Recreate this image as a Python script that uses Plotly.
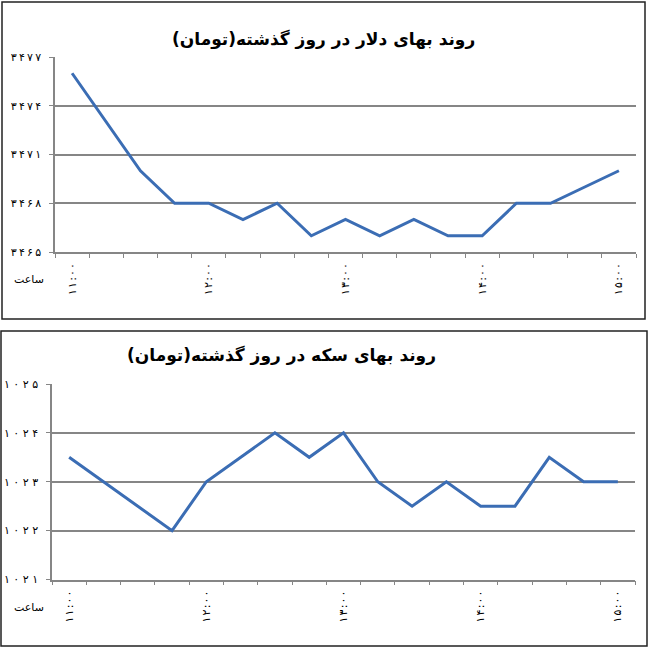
"""Dollar and coin price trend over the past day (two stacked line charts)."""

import plotly.graph_objects as go

# Data
times = ['11:00', '11:15', '11:30', '11:45', '12:00', '12:15', '12:30', '12:45', '13:00',
         '13:15', '13:30', '13:45', '14:00', '14:15', '14:30', '14:45', '15:00']
dollar = [3476, 3473, 3470, 3468, 3468, 3467, 3468, 3466, 3467,
          3466, 3467, 3466, 3466, 3468, 3468, 3469, 3470]
coin = [1023.5, 1023, 1022.5, 1022, 1023, 1023.5, 1024, 1023.5, 1024,
        1023, 1022.5, 1023, 1022.5, 1022.5, 1023.5, 1023, 1023]
dollar_ticks = [3465, 3468, 3471, 3474, 3477]
coin_ticks = [1021, 1022, 1023, 1024, 1025]

title_dollar = 'روند بهای دلار در روز گذشته(تومان)'
title_coin = 'روند بهای سکه در روز گذشته(تومان)'
hour_label = 'ساعت'

W, H = 650, 648
FONT = 'DejaVu Sans'
BLUE = '#3b6db4'
GRAY = '#868686'
THIN = '\u2009'
HAIR = '\u200a'


def fa(s, sep=''):
    """Convert western digits to Persian digits"""
    digits = '۰۱۲۳۴۵۶۷۸۹'
    out = [digits[int(c)] if c.isdigit() else c for c in str(s)]
    return sep.join(out)


def px(x):
    return x / W


def py(y):
    return 1 - y / H


idx = list(range(len(times)))
label_idx = idx[::4]

fig = go.Figure()
fig.add_trace(go.Scatter(x=idx, y=dollar, mode='lines', xaxis='x', yaxis='y',
                         line=dict(color=BLUE, width=3)))
fig.add_trace(go.Scatter(x=idx, y=coin, mode='lines', xaxis='x2', yaxis='y2',
                         line=dict(color=BLUE, width=3)))


def xaxis_cfg(domain, anchor, standoff):
    return dict(
        domain=domain, anchor=anchor, range=[-0.5, len(times) - 0.5],
        tickmode='array', tickvals=label_idx,
        ticktext=[fa(times[i], HAIR) for i in label_idx],
        tickangle=-90, ticks='', ticklabelstandoff=standoff,
        tickfont=dict(family=FONT, size=11, color='black'),
        showgrid=False, zeroline=False, automargin=False,
        showline=True, linecolor=GRAY, linewidth=1.5,
        minor=dict(tickmode='array', tickvals=[i - 0.5 for i in range(len(times) + 1)],
                   ticks='outside', ticklen=4, tickcolor=GRAY, tickwidth=1.2,
                   showgrid=False),
    )


def yaxis_cfg(domain, anchor, rng, ticks, sep):
    return dict(
        domain=domain, anchor=anchor, range=rng,
        tickmode='array', tickvals=ticks, ticktext=[fa(t, sep) for t in ticks],
        ticks='outside', ticklen=4, tickcolor=GRAY, tickwidth=1.2,
        ticklabelstandoff=6,
        tickfont=dict(family=FONT, size=11, color='black'),
        showgrid=True, gridcolor=GRAY, gridwidth=1.5,
        zeroline=False, automargin=False,
        showline=True, linecolor=GRAY, linewidth=1.5,
    )


fig.update_layout(
    width=W, height=H,
    margin=dict(l=0, r=0, t=0, b=0, autoexpand=False),
    paper_bgcolor='white', plot_bgcolor='white',
    showlegend=False,
    xaxis=xaxis_cfg([px(55), px(636)], 'y', 5),
    yaxis=yaxis_cfg([py(252), py(57)], 'x', [3465, 3477], dollar_ticks, THIN),
    xaxis2=xaxis_cfg([px(52), px(635)], 'y2', 5),
    yaxis2=yaxis_cfg([py(579.5), py(384)], 'x2', [1021, 1025], coin_ticks, ' '),
)

# Chart frames
for x0, y0, x1, y1 in [(2, 2, 645, 319), (1, 331, 647, 646)]:
    fig.add_shape(type='rect', xref='paper', yref='paper',
                  x0=px(x0), x1=px(x1), y0=py(y0), y1=py(y1),
                  line=dict(color='#222222', width=1.5))

# Titles and axis label
fig.add_annotation(text='<b>' + title_dollar + '</b>', xref='paper', yref='paper',
                   x=px(323), y=py(27), showarrow=False,
                   font=dict(family=FONT, size=17, color='black'))
fig.add_annotation(text='<b>' + title_coin + '</b>', xref='paper', yref='paper',
                   x=px(281), y=py(355), showarrow=False,
                   font=dict(family=FONT, size=17, color='black'))
for yy in [280, 607]:
    fig.add_annotation(text=hour_label, xref='paper', yref='paper',
                       x=px(46), y=py(yy), xanchor='right', yanchor='middle',
                       showarrow=False,
                       font=dict(family=FONT, size=11, color='black'))

# drop the default page margin so the chart sits at the window's corner
fig.write_html("out.html", config={'displayModeBar': False},
               post_script="document.body.style.margin='0';")
